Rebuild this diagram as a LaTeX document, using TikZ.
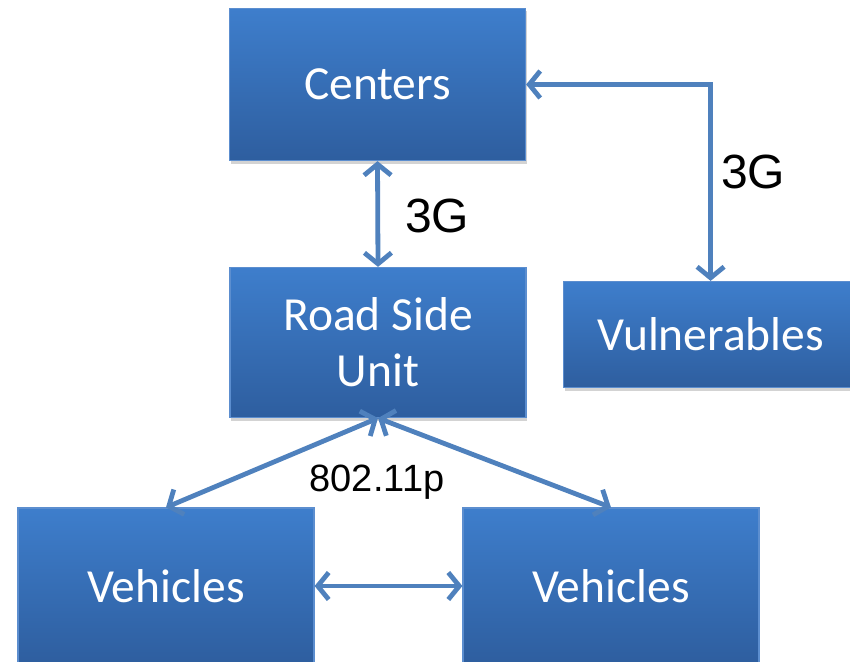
\documentclass[tikz,border=0pt]{standalone}
\usepackage{fontspec}
\setmainfont{Carlito}
\newfontfamily\labelfont{Liberation Sans}
\usetikzlibrary{arrows.meta,shadows}
\definecolor{boxtop}{HTML}{3E7ECC}
\definecolor{boxbot}{HTML}{2E5E9F}
\definecolor{boxedge}{HTML}{5C8ECF}
\definecolor{arrowc}{HTML}{4F81BD}
\tikzset{
  box/.style={draw=boxedge, line width=1.2pt, top color=boxtop, bottom color=boxbot,
    text=white, font=\fontsize{47.5}{56}\selectfont, align=center, inner sep=0pt,
    drop shadow={shadow xshift=1pt, shadow yshift=-3pt, opacity=0.35}},
  link/.style={draw=arrowc, line width=4.8pt,
    {Straight Barb[length=11pt,width=27pt]}-{Straight Barb[length=11pt,width=27pt]}},
  lbl/.style={font=\labelfont\fontsize{48}{56}\selectfont, text=black, inner sep=0pt},
}
\begin{document}
\begin{tikzpicture}[x=1pt,y=-1pt]
\useasboundingbox (0,0) rectangle (850,661);
\node[box, minimum width=296pt, minimum height=152pt] (centers) at (377.5,84.5) {Centers};
\node[box, minimum width=296pt, minimum height=150pt] (rsu) at (378,342.5) {Road Side\\Unit};
\node[box, minimum width=294pt, minimum height=106pt, anchor=west] (vul) at (563,334.5) {Vulnerables};
\node[box, minimum width=296pt, minimum height=156pt] (vl) at (166,586) {Vehicles};
\node[box, minimum width=296pt, minimum height=156pt] (vr) at (611,586) {Vehicles};
\draw[link] (centers.south) -- (rsu.north);
\draw[link] (centers.east) -| (vul.north);
\draw[link] (rsu.south) -- (vl.north);
\draw[link] (rsu.south) -- (vr.north);
\draw[link] (vl.east) -- (vr.west);
\node[lbl, anchor=west] (g1) at (405,216) {3G};
\node[lbl, anchor=west] (g2) at (721,172) {3G};
\node[lbl, font=\labelfont\fontsize{38}{44}\selectfont] (wave) at (377,482) {802.11p};
\end{tikzpicture}
\end{document}
